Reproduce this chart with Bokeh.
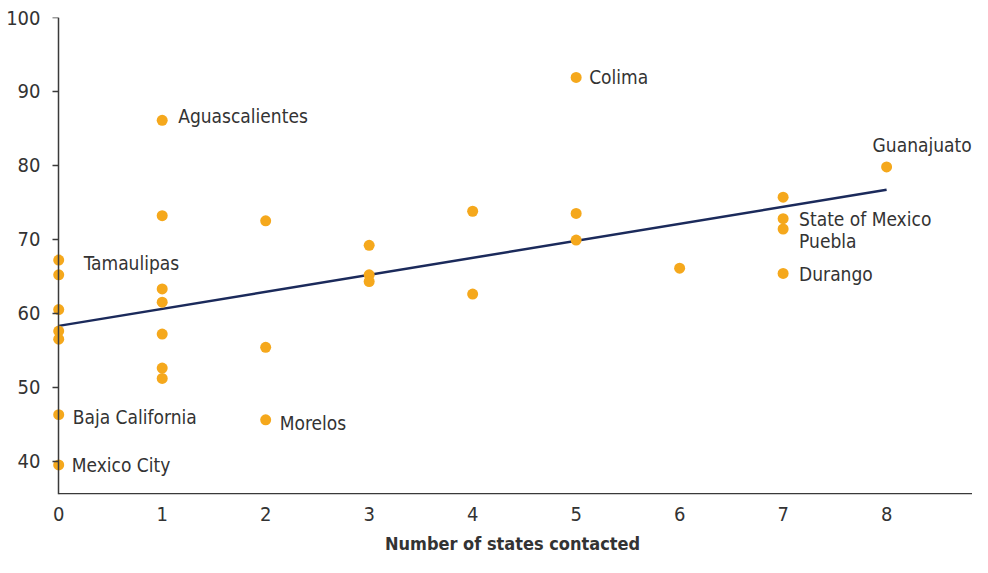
from bokeh.plotting import figure
from bokeh.models import ColumnDataSource, Range1d, FixedTicker, SingleIntervalTicker, LinearAxis
from bokeh.core.properties import value
from bokeh.embed import file_html
from bokeh.resources import INLINE

# ---- data ----
states_contacted = [0, 0, 0, 0, 0, 0, 0,
                    1, 1, 1, 1, 1, 1, 1,
                    2, 2, 2,
                    3, 3, 3,
                    4, 4,
                    5, 5, 5,
                    6,
                    7, 7, 7, 7,
                    8]
score = [67.2, 65.2, 60.5, 57.6, 56.5, 46.3, 39.5,
         86.1, 73.2, 63.3, 61.5, 57.2, 52.6, 51.2,
         72.5, 55.4, 45.6,
         69.2, 65.2, 64.3,
         73.8, 62.6,
         91.9, 73.5, 69.9,
         66.1,
         75.7, 72.8, 71.4, 65.4,
         79.8]

label_names = ["Aguascalientes", "Colima", "Guanajuato", "State of Mexico", "Puebla",
               "Durango", "Tamaulipas", "Baja California", "Mexico City", "Morelos"]
label_x = [1, 5, 8, 7, 7, 7, 0, 0, 0, 2]
label_y = [86.1, 91.9, 79.8, 72.8, 71.4, 65.4, 67.2, 46.3, 39.5, 45.6]
label_dx = [16, 13, -14, 16, 16, 16, 25, 14, 13, 14]
label_dy = [-4, 0, -22, 0, 12, 1, 3, 2, 0, 3]

trend_x = [0, 8]
trend_y = [58.3, 76.7]

x_ticks = [0, 1, 2, 3, 4, 5, 6, 7, 8]
y_ticks_interval = 10
x_title = "Number of states contacted"

X0, X1 = -0.06, 8.83
Y0, Y1 = 35.5, 100

FONT = "DejaVu Sans Condensed"
TEXT = "#333333"
AXIS = "#3a3a3a"
DOT = "#F5A81C"
LINE = "#1B2A5B"

p = figure(width=972, height=557, output_backend="svg", toolbar_location=None,
           x_range=Range1d(X0, X1), y_range=Range1d(Y0, Y1),
           min_border_left=52, min_border_right=0, min_border_top=17, min_border_bottom=63)
p.outline_line_color = None
p.grid.visible = False
p.background_fill_color = "white"
p.border_fill_color = "white"

# x axis baseline starting at the y axis (x = 0)
p.segment(x0=[0], y0=[Y0 + 0.1], x1=[X1], y1=[Y0 + 0.1], line_color=AXIS, line_width=1.5)

p.line(trend_x, trend_y, line_color=LINE, line_width=2.5)

src = ColumnDataSource(dict(x=states_contacted, y=score))
p.scatter("x", "y", source=src, size=11, fill_color=DOT, line_color=None)

lsrc = ColumnDataSource(dict(x=label_x, y=label_y, t=label_names, dx=label_dx, dy=label_dy))
p.text("x", "y", text="t", source=lsrc, x_offset="dx", y_offset="dy",
       text_font=value(FONT), text_font_size="19px", text_color=TEXT,
       text_baseline="middle", text_align="left")

# labels-only y axis at the frame edge
ya = p.yaxis[0]
ya.ticker = SingleIntervalTicker(interval=y_ticks_interval)
ya.minor_tick_line_color = None
ya.major_tick_line_color = None
ya.axis_line_color = None
ya.major_label_standoff = 6
ya.major_label_text_font = FONT
ya.major_label_text_font_size = "20px"
ya.major_label_text_color = TEXT

# y axis line and ticks drawn at x = 0
ya2 = LinearAxis(fixed_location=0, ticker=SingleIntervalTicker(interval=y_ticks_interval))
ya2.minor_tick_line_color = None
ya2.major_tick_in = 0
ya2.major_tick_out = 9
ya2.major_tick_line_color = AXIS
ya2.major_tick_line_width = 1.5
ya2.axis_line_color = AXIS
ya2.axis_line_width = 1.5
ya2.major_label_text_color = None
ya2.major_label_text_font_size = "1px"
p.add_layout(ya2, "left")

xa = p.xaxis[0]
xa.ticker = FixedTicker(ticks=x_ticks)
xa.minor_tick_line_color = None
xa.major_tick_in = 0
xa.major_tick_out = 0
xa.axis_line_color = None
xa.major_label_standoff = 12
xa.major_label_text_font = FONT
xa.major_label_text_font_size = "20px"
xa.major_label_text_color = TEXT
xa.axis_label = x_title
xa.axis_label_standoff = 9
xa.axis_label_text_font = FONT
xa.axis_label_text_font_size = "18px"
xa.axis_label_text_font_style = "bold"
xa.axis_label_text_color = TEXT

open("out.html", "w").write(file_html(p, INLINE))
